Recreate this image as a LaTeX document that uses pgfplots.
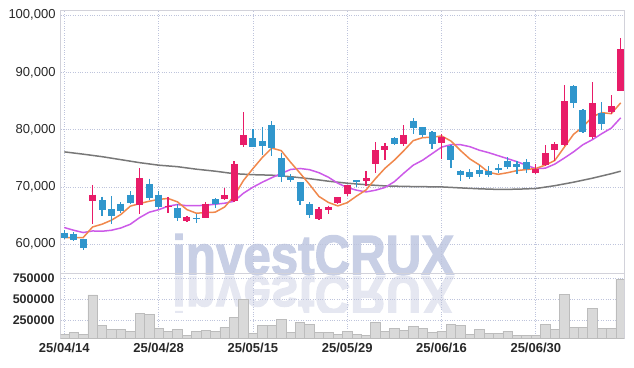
\documentclass[border=0pt]{standalone}
\usepackage{fontspec}
\setmainfont{Liberation Sans}
\newfontfamily\wmfont[BoldFeatures={FakeBold=2.2}]{Liberation Sans}
\usepackage{pgfplots}
\usepackage{pgfplotstable}
\pgfplotsset{compat=1.18}
\definecolor{cup}{RGB}{232,28,104}
\definecolor{cdn}{RGB}{48,150,204}
\definecolor{ma5}{RGB}{240,136,76}
\definecolor{ma20}{RGB}{204,90,232}
\definecolor{ma60}{RGB}{120,120,120}
\definecolor{gridc}{RGB}{190,196,220}
\definecolor{framec}{RGB}{210,210,218}
\definecolor{wm}{RGB}{200,207,229}
\definecolor{wmr}{RGB}{229,231,241}
\definecolor{volf}{RGB}{217,217,217}
\definecolor{vold}{RGB}{188,188,188}
\definecolor{labc}{RGB}{40,40,40}

\pgfplotstableread{
i o h l c
3 67560 70360 63620 68680
8 66930 73220 65360 71480
11 66530 68260 65540 66650
13 64070 64890 63970 64770
15 64590 67390 64500 67100
17 67860 69730 67690 68560
18 67560 74450 67390 73970
19 77240 83000 77000 79040
27 64370 66520 64190 66220
28 66060 66760 65360 66520
29 67210 68260 66990 68160
30 68730 70400 68380 70310
32 71060 72800 70130 71530
33 73920 77760 72520 76420
34 76420 77700 74670 77120
36 77520 80790 77120 79100
40 77700 79270 74790 78640
50 72350 73970 72200 73050
51 73750 77240 73600 75840
52 76420 77820 74550 77470
53 77350 87770 77200 84980
56 78740 88240 78290 84680
58 83060 85970 82710 84100
59 86780 95930 86700 94010
}\up

\pgfplotstableread{
i o h l c
0 62040 62500 60930 61100
1 61870 62100 60580 60820
2 60870 61000 59070 59350
4 67690 68330 64890 66060
5 66110 68380 63620 64940
6 67100 67340 65470 65820
7 68680 69260 67040 67210
9 70480 71470 67690 68090
10 68680 69380 66170 66530
12 66340 66990 64070 64590
14 64660 65360 63790 64540
16 67860 68030 66410 66990
20 78570 80030 76900 76990
21 77990 80380 75550 77170
22 80790 81480 75370 76720
23 75020 75840 70880 71760
24 71760 72230 70880 71180
25 70830 70900 66810 67510
26 66990 67390 64660 65070
31 71180 71180 70010 70880
35 78510 78640 77240 77470
37 81540 81960 79210 80310
38 80380 80490 78740 79040
39 79560 79690 76540 77410
41 77170 77290 73330 74670
42 72800 72930 71060 72100
43 72580 73100 71350 71650
44 72980 73750 71760 72230
45 72800 73630 71650 72100
46 73220 73920 72460 72930
47 74550 75140 73050 73500
48 74090 74500 72230 73500
49 74320 74790 72400 73150
54 87600 87770 83810 84580
55 83410 83530 79400 79560
57 82830 84800 79860 81010
}\down

\pgfplotstableread{
i v
0 61170
1 61170
2 61170
3 63020
4 63500
5 64200
6 65200
7 66650
8 67102
9 67508
10 67826
11 67992
12 67400
13 66050
14 65416
15 65530
16 65598
17 66500
18 68400
19 71132
20 73200
21 75146
22 76778
23 76336
24 74300
25 72400
26 70448
27 68348
28 67300
29 66696
30 67256
31 68418
32 69480
33 71460
34 73252
35 74684
36 76328
37 78084
38 78608
39 78666
40 78900
41 78014
42 76372
43 74894
44 73858
45 72550
46 72202
47 72482
48 72852
49 73036
50 73226
51 73808
52 74602
53 76898
54 79184
55 80486
56 82254
57 82962
58 82786
59 84672
}\mafive

\pgfplotstableread{
i v
0 62917
1 62445
2 62044
3 62323
4 62271
5 62445
6 62847
7 63493
8 64664
9 65589
10 66026
11 66637
12 66934
13 66725
14 66725
15 66812
16 66987
17 67161
18 67511
19 68908
20 69956
21 70830
22 71615
23 72349
24 73048
25 73223
26 73013
27 72489
28 71703
29 70655
30 69904
31 69432
32 69135
33 69432
34 69904
35 70917
36 72402
37 73799
38 74672
39 75808
40 76943
41 77380
42 77380
43 77031
44 76419
45 75983
46 75459
47 74934
48 74410
49 73799
50 73188
51 73275
52 73974
53 75022
54 76122
55 77380
56 78253
57 79301
58 80262
59 82061
}\matwenty

\pgfplotstableread{
i v
0 76122
2 75720
4 75284
6 74760
8 74235
10 73799
12 73537
14 73100
16 72751
18 72314
20 72140
22 72052
24 71790
26 71441
28 71004
30 70655
32 70393
34 70183
36 70096
38 70044
40 70009
42 69834
44 69677
46 69572
48 69607
50 69729
52 70218
54 70830
56 71528
58 72314
59 72751
}\masixty

\pgfplotstableread{
i v
0 82000
1 106000
2 82000
3 550000
4 186000
5 138000
6 138000
7 118000
8 330000
9 318000
10 150000
11 118000
12 138000
13 66000
14 118000
15 126000
16 118000
17 162000
18 282000
19 498000
20 94000
21 186000
22 186000
23 258000
24 102000
25 222000
26 202000
27 106000
28 98000
29 82000
30 118000
31 78000
32 66000
33 222000
34 118000
35 150000
36 130000
37 174000
38 150000
39 106000
40 118000
41 202000
42 190000
43 82000
44 138000
45 94000
46 94000
47 118000
48 66000
49 66000
50 66000
51 202000
52 142000
53 558000
54 166000
55 166000
56 390000
57 150000
58 150000
59 738000
}\vol

\begin{document}
\begin{tikzpicture}
\path (0pt,0pt) rectangle (634pt,367pt);
% watermark
\node[anchor=base west, inner sep=0pt, text=wm, font=\fontsize{56}{56}\selectfont\wmfont\bfseries, xscale=0.88] at (172pt,92.5pt) {investCRUX};
\begin{scope}
\clip (0pt,55pt) rectangle (634pt,91pt);
\node[anchor=base west, inner sep=0pt, text=wmr, font=\fontsize{56}{56}\selectfont\wmfont\bfseries, xscale=0.88, yscale=-1] at (172pt,90.5pt) {investCRUX};
\end{scope}

\begin{axis}[
  at={(60.7pt,93.7pt)}, anchor=south west, scale only axis,
  width=563.3pt, height=263.3pt,
  xmin=-0.382, xmax=59.35, ymin=54935, ymax=100873,
  axis line style={draw=framec, line width=0.8pt},
  xtick={0,10,20,30,40,50}, xticklabels={},
  ytick={60000,70000,80000,90000,100000},
  yticklabels={{60,000},{70,000},{80,000},{90,000},{100,000}},
  scaled y ticks=false,
  grid=major, major grid style={dotted, gridc, line width=0.8pt},
  major tick length=0pt, tick style={draw=none},
  yticklabel style={font=\fontsize{13}{13}\selectfont, text=labc, anchor=east, inner sep=0pt, xshift=-5pt},
]
\addplot[ma60, line width=1.5pt, mark=none] table[x=i,y=v]{\masixty};
\addplot[ma20, line width=1.5pt, mark=none] table[x=i,y=v]{\matwenty};
\addplot[ma5, line width=1.5pt, mark=none] table[x=i,y=v]{\mafive};
% wicks
\addplot[draw=none, mark=none, error bars/.cd, y dir=minus, y explicit, error mark=none,
  error bar style={draw=cup, line width=1.2pt}] table[x=i, y=h, y error minus expr=\thisrow{h}-\thisrow{l}]{\up};
\addplot[draw=none, mark=none, error bars/.cd, y dir=minus, y explicit, error mark=none,
  error bar style={draw=cdn, line width=1.2pt}] table[x=i, y=h, y error minus expr=\thisrow{h}-\thisrow{l}]{\down};
% bodies
\addplot[draw=none, mark=none, error bars/.cd, y dir=minus, y explicit, error mark=none,
  error bar style={draw=cup, line width=7pt}] table[x=i, y=c, y error minus expr={max(\thisrow{c}-\thisrow{o},100)}]{\up};
\addplot[draw=none, mark=none, error bars/.cd, y dir=minus, y explicit, error mark=none,
  error bar style={draw=cdn, line width=7pt}] table[x=i, y=o, y error minus expr={max(\thisrow{o}-\thisrow{c},100)}]{\down};
\end{axis}

\begin{axis}[
  at={(60.7pt,28.7pt)}, anchor=south west, scale only axis,
  width=563.3pt, height=65pt,
  xmin=-0.382, xmax=59.35, ymin=30600, ymax=810000,
  axis line style={draw=framec, line width=0.8pt},
  xtick={0,10,20,30,40,50},
  xticklabels={25/04/14,25/04/28,25/05/15,25/05/29,25/06/16,25/06/30},
  ytick={250000,500000,750000},
  yticklabels={250000,500000,750000},
  scaled y ticks=false,
  grid=major, major grid style={dotted, gridc, line width=0.8pt},
  major tick length=0pt, tick style={draw=none},
  yticklabel style={font=\fontsize{12.5}{12.5}\selectfont\bfseries, text=labc, anchor=east, inner sep=0pt, xshift=-6pt},
  xticklabel style={font=\fontsize{13}{13}\selectfont\bfseries, text=labc, anchor=north, inner sep=0pt, yshift=-4.5pt},
]
\addplot[ybar, bar width=9.43pt, fill=volf, draw=vold, line width=0.6pt] table[x=i,y=v]{\vol};
\end{axis}
\end{tikzpicture}
\end{document}
